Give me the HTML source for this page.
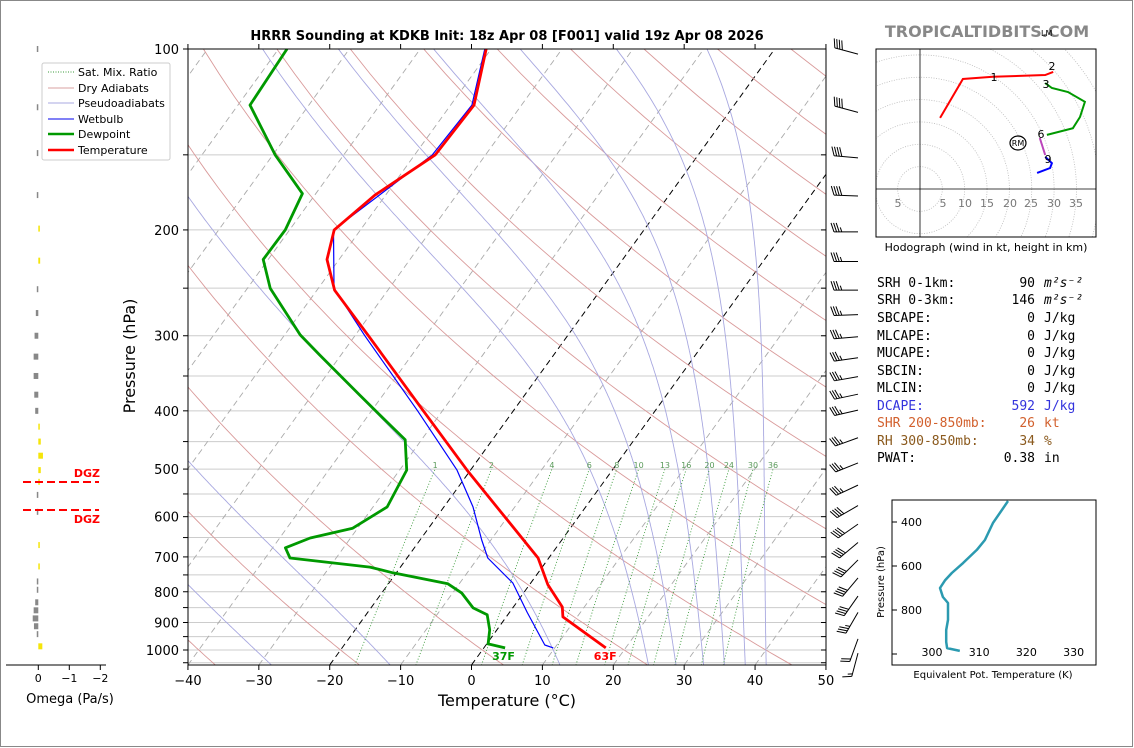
<!DOCTYPE html>
<html><head><meta charset="utf-8"><style>
html,body{margin:0;padding:0;background:#fff;}
svg{display:block;font-family:"DejaVu Sans","Liberation Sans",sans-serif;}
</style></head><body>
<svg id="s" width="1134" height="748" viewBox="0 0 1134 748" xmlns="http://www.w3.org/2000/svg">
<rect x="0.5" y="0.5" width="1132" height="746" fill="#fff" stroke="#888"/>
<defs>
<clipPath id="cp"><rect x="188" y="49" width="638" height="616"/></clipPath>
<clipPath id="hc"><rect x="876" y="49" width="220" height="188"/></clipPath>
<clipPath id="tc"><rect x="892" y="500" width="204" height="165"/></clipPath>
</defs>
<text x="507" y="40" text-anchor="middle" font-size="13" font-weight="bold">HRRR Sounding at KDKB Init: 18z Apr 08 [F001] valid 19z Apr 08 2026</text>
<text x="987" y="37" text-anchor="middle" font-size="16" font-weight="bold" fill="#888">TROPICALTIDBITS.COM</text>
<text x="1041" y="36" font-size="8">LM</text>
<g id="bg" clip-path="url(#cp)"></g>
<g id="main" clip-path="url(#cp)"></g>
<g id="axes"></g>
<g id="barbs"></g>
<g id="omega"></g>
<g id="hodo"></g>
<g id="te"></g>
<g>
<rect x="42" y="63" width="128" height="97" fill="#fff" stroke="#ccc" rx="2"/>
<line x1="48" y1="72" x2="74" y2="72" stroke="#3a9a3a" stroke-dasharray="1,1.5" stroke-width="1"/>
<text x="78" y="76" font-size="11">Sat. Mix. Ratio</text>
<line x1="48" y1="88" x2="74" y2="88" stroke="#d9a0a0" stroke-width="1"/>
<text x="78" y="92" font-size="11">Dry Adiabats</text>
<line x1="48" y1="103" x2="74" y2="103" stroke="#a8a8e0" stroke-width="1"/>
<text x="78" y="107" font-size="11">Pseudoadiabats</text>
<line x1="48" y1="119" x2="74" y2="119" stroke="#0000ee" stroke-width="1"/>
<text x="78" y="123" font-size="11">Wetbulb</text>
<line x1="48" y1="134" x2="74" y2="134" stroke="#009900" stroke-width="2.5"/>
<text x="78" y="138" font-size="11">Dewpoint</text>
<line x1="48" y1="150" x2="74" y2="150" stroke="#ff0000" stroke-width="2.5"/>
<text x="78" y="154" font-size="11">Temperature</text>
</g>
<g font-family="'DejaVu Sans Mono','Liberation Mono',monospace" font-size="13">
<text x="877" y="287">SRH 0-1km:</text><text x="1035" y="287" text-anchor="end">90</text><text x="1044" y="287" font-style="italic">m²s⁻²</text>
<text x="877" y="304">SRH 0-3km:</text><text x="1035" y="304" text-anchor="end">146</text><text x="1044" y="304" font-style="italic">m²s⁻²</text>
<text x="877" y="322">SBCAPE:</text><text x="1035" y="322" text-anchor="end">0</text><text x="1044" y="322">J/kg</text>
<text x="877" y="340">MLCAPE:</text><text x="1035" y="340" text-anchor="end">0</text><text x="1044" y="340">J/kg</text>
<text x="877" y="357">MUCAPE:</text><text x="1035" y="357" text-anchor="end">0</text><text x="1044" y="357">J/kg</text>
<text x="877" y="375">SBCIN:</text><text x="1035" y="375" text-anchor="end">0</text><text x="1044" y="375">J/kg</text>
<text x="877" y="392">MLCIN:</text><text x="1035" y="392" text-anchor="end">0</text><text x="1044" y="392">J/kg</text>
<g fill="#3333dd"><text x="877" y="410">DCAPE:</text><text x="1035" y="410" text-anchor="end">592</text><text x="1044" y="410">J/kg</text></g>
<g fill="#d2602d"><text x="877" y="427">SHR 200-850mb:</text><text x="1035" y="427" text-anchor="end">26</text><text x="1044" y="427">kt</text></g>
<g fill="#8b5a1e"><text x="877" y="445">RH 300-850mb:</text><text x="1035" y="445" text-anchor="end">34</text><text x="1044" y="445">%</text></g>
<text x="877" y="462">PWAT:</text><text x="1035" y="462" text-anchor="end">0.38</text><text x="1044" y="462">in</text>
</g>
</svg>
<script>
// ---- main sounding data ----
const tempP = [992,881,848,779,703,502,400,300,252,224,200,175,150,124,100];
const tempT = [17.2,8.0,6.9,2.6,-1.5,-20.5,-32.7,-48.1,-57.5,-61.7,-63.7,-61.5,-57.1,-56.7,-60.7];
const dewP = [992,977,926,874,851,804,776,744,728,703,676,651,627,578,502,447,422,377,323,299,250,224,200,174,150,124,100];
const dewT = [3.0,0.2,-1.0,-2.9,-5.6,-8.7,-11.6,-20.5,-24.3,-36.5,-38.2,-35.7,-30.7,-28.0,-29.0,-32.3,-36.0,-43.2,-53.0,-57.8,-66.8,-70.7,-70.6,-71.9,-79.7,-88.3,-88.8];
const wbP = [992,981,866,774,703,656,578,502,400,300,250,200,150,124,100];
const wbT = [9.8,8.3,2.5,-2.5,-8.6,-11.3,-15.9,-21.9,-33.5,-48.6,-57.8,-63.8,-57.5,-57.0,-60.9];
const xTicks = [-40,-30,-20,-10,0,10,20,30,40,50];
const pLabels = [100,200,300,400,500,600,700,800,900,1000];
const mixRatios = [1,2,4,6,8,10,13,16,20,24,30,36];
const dryThetas = [233.15,253.15,273.15,293.15,313.15,333.15,353.15,373.15,393.15,413.15,433.15,453.15,473.15,493.15,513.15,533.15,553.15];
const moistT0 = [-32,-15,10,23,27,31,34,37,40];
// wind barbs
const barbP = [100,125,150,174,200,224,250,275,300,326,351,376,400,447,493,538,584,629,677,726,780,838,894,993,1050];
const barbDir = [285,285,275,272,270,270,270,268,265,262,260,258,257,250,248,245,240,235,230,225,220,215,210,200,195];
const barbSpd = [40,40,40,40,35,35,35,35,35,35,35,35,35,35,35,35,40,40,40,40,40,40,35,20,15];
// omega
const omegaP = [100,125,149,175,199,225,251,275,300,325,350,376,400,425,450,475,502,525,552,589,669,726,769,794,833,859,886,913,941,986];
const omegaV = [0.02,0.02,0.01,0.01,-0.05,-0.06,0.01,0.08,0.12,0.15,0.15,0.13,0.10,-0.02,-0.08,-0.15,-0.08,-0.02,0.01,0.01,-0.03,-0.02,0.01,0.03,0.10,0.15,0.18,0.14,0.05,-0.13];
// hodograph (kt)
const hodoRedU=[4.5,9.6,16.3,28.0,29.8], hodoRedV=[15.9,24.6,25.1,25.5,26.2];
const hodoGrnU=[28.0,29.5,33.1,36.9,35.8,34.2,28.4], hodoGrnV=[23.7,22.6,21.7,19.5,16.1,13.6,12.1];
const hodoMagU=[26.8,28.0], hodoMagV=[11.4,7.6];
const hodoBluU=[28.0,29.5,29.1,26.2], hodoBluV=[7.2,5.8,4.7,3.6];
const hodoRings=[5,10,15,20,25,30,35,40,45,50];
// theta-e
const teP=[305,405,482,527,586,632,664,700,741,768,845,891,945,973,986];
const teV=[316.1,312.9,311.2,309.5,306.6,304.2,302.8,301.7,302.3,303.4,303.4,303.0,303.0,303.2,305.9];

const NS="http://www.w3.org/2000/svg";
function mk(tag,attrs,parent){const e=document.createElementNS(NS,tag);for(const k in attrs)e.setAttribute(k,attrs[k]);parent.appendChild(e);return e;}
const yP=p=>49+601*Math.log10(p/100);
const xT=(T,p)=>471.5+7.089*T+(665-yP(p))*0.7224;
function pathFrom(pts){return pts.map((q,i)=>(i?'L':'M')+q[0].toFixed(1)+' '+q[1].toFixed(1)).join(' ');}
const bg=document.getElementById('bg'), main=document.getElementById('main'), axes=document.getElementById('axes');

for(let p=100;p<=1050;p+=50){const y=yP(p);const l=mk('line',{x1:188,x2:826,y1:y,y2:y,stroke:'#cccccc','stroke-width':1},bg);

}
for(let T=-120;T<=50;T+=10){const blk=(T===0||T===-20);const l=mk('line',{x1:xT(T,1059),y1:yP(1059),x2:xT(T,100),y2:yP(100),stroke:blk?'#000':'#aaa','stroke-width':blk?1:0.9,'stroke-dasharray':'6,4'},bg);

}
dryThetas.forEach(th=>{const pts=[];for(let p=1060;p>=100;p-=10){const T=th*Math.pow(p/1000,0.2857)-273.15;pts.push([xT(T,p),yP(p)]);}
const e=mk('path',{d:pathFrom(pts),fill:'none',stroke:'#d99a9a','stroke-width':0.9},bg);

});
function es(T){return 6.112*Math.exp(17.67*(T-273.15)/(T-29.65));}
function dTdp(T,p){const rs=0.622*es(T)/(p-es(T));return (287*T+2.5e6*rs)/(p*(1005+2.5e6*2.5e6*rs*0.622/(287*T*T)));}
moistT0.forEach(t0=>{let pts=[];let T=t0+273.15;for(let p=1000;p<=1060;p+=2){pts.unshift([xT(T-273.15,p),yP(p)]);T+=dTdp(T,p)*2;}
T=t0+273.15;const up=[];for(let p=1000;p>=100;p-=2){up.push([xT(T-273.15,p),yP(p)]);T-=dTdp(T,p)*2;}
const all=pts.concat(up);
const e=mk('path',{d:pathFrom(all),fill:'none',stroke:'#a8a8e0','stroke-width':0.9},bg);

});
mixRatios.forEach(w=>{const pts=[];for(let p=1060;p>=500;p-=20){const e=w*p/(622+w);const L=Math.log(e/6.112);const Td=243.5*L/(17.67-L);pts.push([xT(Td,p),yP(p)]);}
const e=mk('path',{d:pathFrom(pts),fill:'none',stroke:'#3a9a3a','stroke-width':0.9,'stroke-dasharray':'1,2'},bg);


const t=mk('text',{x:pts[pts.length-1][0],y:yP(500)-1,'font-size':8,fill:'#5a9a5a','text-anchor':'middle'},bg);t.textContent=w;

});

function prof(P,T,color,w,name){const e=mk('path',{d:pathFrom(P.map((p,i)=>[xT(T[i],p),yP(p)])),fill:'none',stroke:color,'stroke-width':w,'stroke-linejoin':'round'},main);

}
prof(wbP,wbT,'#0000ff',1.2,'wetbulb-line');
prof(dewP,dewT,'#009900',2.8,'dewpoint-line');
prof(tempP,tempT,'#ff0000',2.8,'temperature-line');
{const t=mk('text',{x:xT(dewT[0],dewP[0])-13,y:660,'font-size':11,'font-weight':'bold',fill:'#009900'},axes);t.textContent=Math.round(dewT[0]*9/5+32)+'F';


const t2=mk('text',{x:xT(tempT[0],tempP[0])-12,y:660,'font-size':11,'font-weight':'bold',fill:'#ff0000'},axes);t2.textContent=Math.round(tempT[0]*9/5+32)+'F';

}

mk('rect',{x:188,y:49,width:638,height:616,fill:'none',stroke:'#000','stroke-width':1},axes);
xTicks.forEach(T=>{const x=471.5+7.089*T;mk('line',{x1:x,x2:x,y1:665,y2:670,stroke:'#000'},axes);mk('line',{x1:x,x2:x,y1:49,y2:44,stroke:'#000'},axes);
const t=mk('text',{x:x,y:685,'font-size':13,'text-anchor':'middle'},axes);t.textContent=(T<0?'\u2212'+(-T):T);

});
for(let p=100;p<=1050;p+=50){const y=yP(p);mk('line',{x1:183,x2:188,y1:y,y2:y,stroke:'#000'},axes);mk('line',{x1:821,x2:826,y1:y,y2:y,stroke:'#000'},axes);}
pLabels.forEach(p=>{const t=mk('text',{x:179,y:yP(p)+5,'font-size':13,'text-anchor':'end'},axes);t.textContent=p;

});
{const t=mk('text',{x:507,y:706,'font-size':16,'text-anchor':'middle'},axes);t.textContent='Temperature (\u00b0C)';


const t2=mk('text',{x:0,y:0,'font-size':16,'text-anchor':'middle',transform:'translate(135,356) rotate(-90)'},axes);t2.textContent='Pressure (hPa)';

}

// wind barbs (centered vertically on level)
const bG=document.getElementById('barbs');
barbP.forEach((p,i)=>{const d=barbDir[i]*Math.PI/180;const ux=Math.sin(d),uy=-Math.cos(d);const L=24;
const bx=858,y=yP(p)+2-uy*L/2;
const tx=bx+ux*L,ty=y+uy*L;
const g=mk('g',{},bG);


mk('line',{x1:bx,y1:y,x2:tx,y2:ty,stroke:'#000','stroke-width':1},g);
const px=-uy, py=ux;
let pxs=px, pys=py; if(pys>0){pxs=-px;pys=-py;}
let s=barbSpd[i],pos=0;
while(s>=10){const ax=tx-ux*pos,ay=ty-uy*pos;mk('line',{x1:ax,y1:ay,x2:ax+pxs*9+ux*3,y2:ay+pys*9+uy*3,stroke:'#000','stroke-width':1},g);s-=10;pos+=2.6;}
if(s>=5){if(pos===0)pos=2.6;const ax=tx-ux*pos,ay=ty-uy*pos;mk('line',{x1:ax,y1:ay,x2:ax+pxs*4.5+ux*1.5,y2:ay+pys*4.5+uy*1.5,stroke:'#000','stroke-width':1},g);}
});

// omega panel
const oG=document.getElementById('omega');const xO=w=>38.3-31*w;
omegaP.forEach((p,i)=>{const v=omegaV[i];const x0=xO(0),x1=xO(v);const w=Math.max(Math.abs(x1-x0),1.5);
const r=mk('rect',{x:v>0?x0-w:x0,y:yP(p)-3,width:w,height:6,fill:v>0?'#888':'#f5e50a'},oG);

});
mk('line',{x1:6,x2:106,y1:665,y2:665,stroke:'#000'},oG);
[0,-1,-2].forEach(w=>{const x=xO(w);mk('line',{x1:x,x2:x,y1:665,y2:670,stroke:'#000'},oG);const t=mk('text',{x:x,y:682,'font-size':11,'text-anchor':'middle'},oG);t.textContent=w===0?'0':'\u2212'+(-w);

});
{const t=mk('text',{x:70,y:703,'font-size':13,'text-anchor':'middle'},oG);t.textContent='Omega (Pa/s)';

}
mk('line',{x1:23,x2:99,y1:482,y2:482,stroke:'#ff0000','stroke-width':2,'stroke-dasharray':'8,4'},oG);
mk('line',{x1:23,x2:99,y1:510,y2:510,stroke:'#ff0000','stroke-width':2,'stroke-dasharray':'8,4'},oG);
{const t=mk('text',{x:100,y:477,'font-size':11,'font-weight':'bold',fill:'#ff0000','text-anchor':'end'},oG);t.textContent='DGZ';


const t2=mk('text',{x:100,y:523,'font-size':11,'font-weight':'bold',fill:'#ff0000','text-anchor':'end'},oG);t2.textContent='DGZ';

}

// hodograph
const hG=document.getElementById('hodo');const ox=920,oy=189,k=4.47;
const hx=u=>ox+u*k,hy=v=>oy-v*k;
const hc=mk('g',{'clip-path':'url(#hc)'},hG);
hodoRings.forEach(r=>{const c=mk('circle',{cx:ox,cy:oy,r:r*k,fill:'none',stroke:'#bbb','stroke-width':0.8,'stroke-dasharray':'1,1.5'},hc);

});
mk('line',{x1:876,x2:1096,y1:oy,y2:oy,stroke:'#000','stroke-width':0.8},hc);
mk('line',{x1:ox,x2:ox,y1:49,y2:237,stroke:'#000','stroke-width':0.8},hc);
[[hodoRedU,hodoRedV,'#ff0000'],[hodoGrnU,hodoGrnV,'#009900'],[hodoMagU,hodoMagV,'#bb44bb'],[hodoBluU,hodoBluV,'#0000ff']].forEach(s=>{
const e=mk('path',{d:pathFrom(s[0].map((u,i)=>[hx(u),hy(s[1][i])])),fill:'none',stroke:s[2],'stroke-width':2},hc);

});
mk('rect',{x:876,y:49,width:220,height:188,fill:'none',stroke:'#000'},hG);
[[-5,898],[5,943],[10,965],[15,987],[20,1010],[25,1031],[30,1054],[35,1076]].forEach(a=>{const t=mk('text',{x:a[1],y:207,'font-size':11,fill:'#777','text-anchor':'middle'},hG);t.textContent=Math.abs(a[0]);

});
[['1',994,81],['2',1052,70],['3',1046,88],['6',1041,138],['9',1048,163]].forEach(a=>{const t=mk('text',{x:a[1],y:a[2],'font-size':11,'text-anchor':'middle'},hG);t.textContent=a[0];

});
mk('ellipse',{cx:1018,cy:143,rx:8,ry:7,fill:'none',stroke:'#000','stroke-width':1.2},hG);
{const t=mk('text',{x:1018,y:146,'font-size':8,'text-anchor':'middle'},hG);t.textContent='RM';


const t2=mk('text',{x:986,y:251,'font-size':11,'text-anchor':'middle'},hG);t2.textContent='Hodograph (wind in kt, height in km)';

}

// theta-e panel
const tG=document.getElementById('te');const tx=v=>932+(v-300)*4.72,ty=p=>522+(p-400)*0.22;
const tcg=mk('g',{'clip-path':'url(#tc)'},tG);
{const e=mk('path',{d:pathFrom(teP.map((p,i)=>[tx(teV[i]),ty(p)])),fill:'none',stroke:'#2b9ab0','stroke-width':2.5,'stroke-linejoin':'round'},tcg);

}
mk('rect',{x:892,y:500,width:204,height:165,fill:'none',stroke:'#000'},tG);
[400,600,800,1000].forEach(p=>{mk('line',{x1:892,x2:897,y1:ty(p),y2:ty(p),stroke:'#000'},tG);if(p<1000){const t=mk('text',{x:922,y:ty(p)+4,'font-size':11,'text-anchor':'end'},tG);t.textContent=p;

}});
[300,310,320,330].forEach(v=>{const t=mk('text',{x:tx(v),y:656,'font-size':11,'text-anchor':'middle'},tG);t.textContent=v;

});
{const t=mk('text',{x:0,y:0,'font-size':10,'text-anchor':'middle',transform:'translate(884,582) rotate(-90)'},tG);t.textContent='Pressure (hPa)';


const t2=mk('text',{x:993,y:678,'font-size':10,'text-anchor':'middle'},tG);t2.textContent='Equivalent Pot. Temperature (K)';

}
</script>
</body></html>
